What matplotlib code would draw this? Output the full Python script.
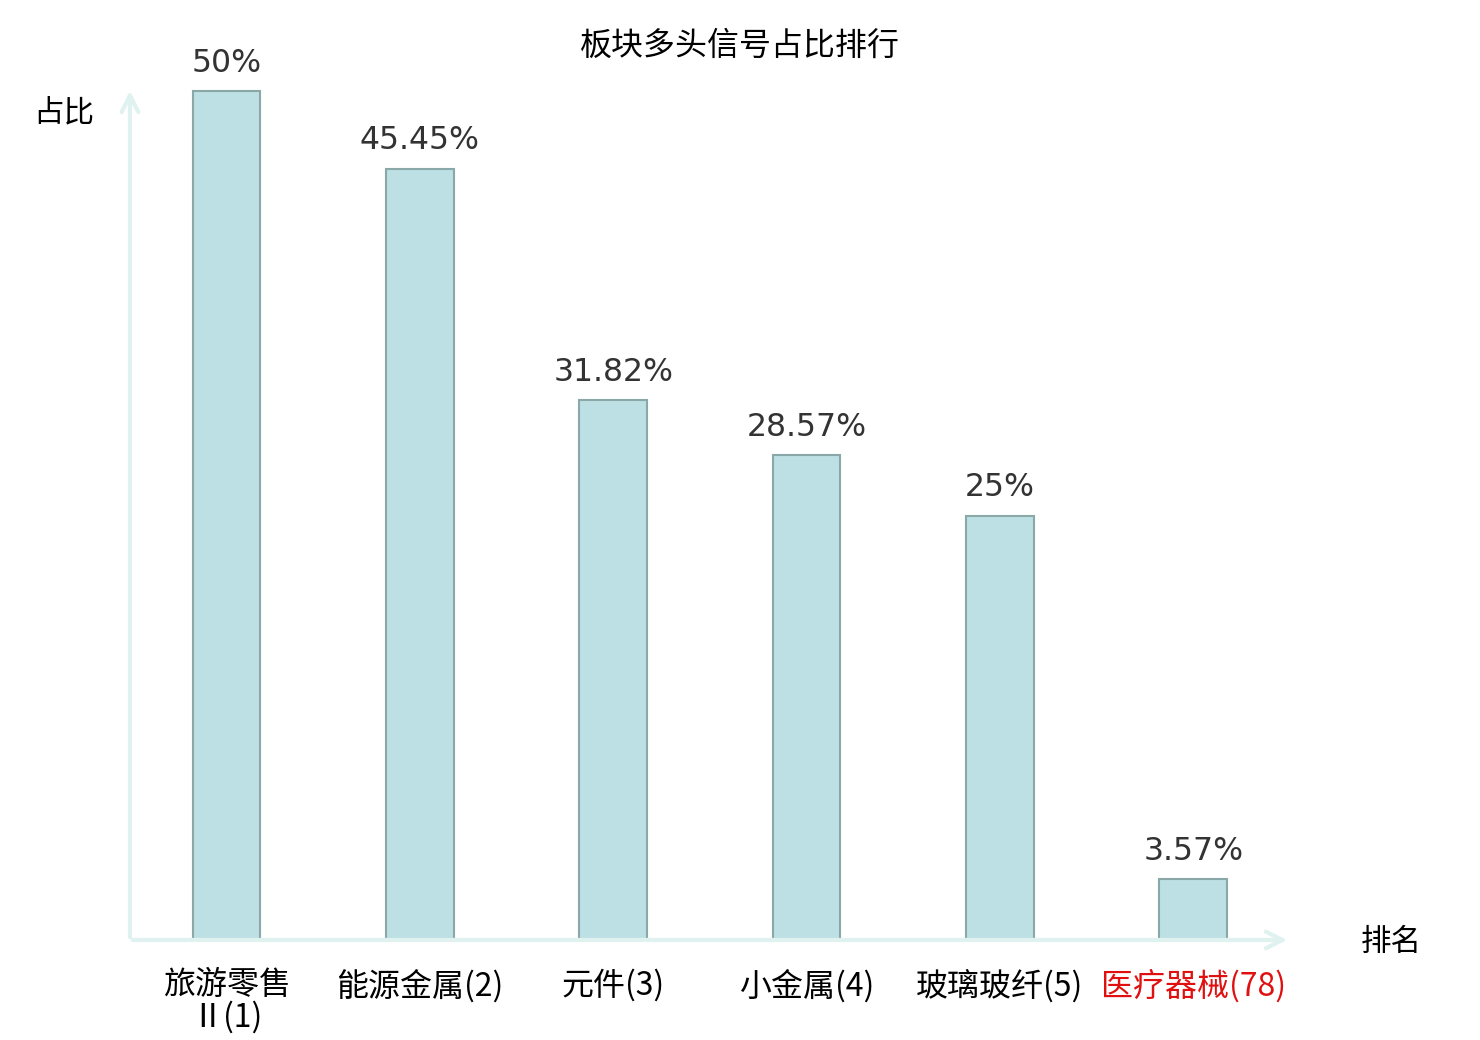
import matplotlib.pyplot as plt
import numpy as np

plt.rcParams['font.family'] = ['Noto Sans CJK SC', 'DejaVu Sans']

# 数据
categories = ['旅游零售\nⅡ(1)', '能源金属(2)', '元件(3)', '小金属(4)', '玻璃玻纤(5)', '医疗器械(78)']
values = [50, 45.45, 31.82, 28.57, 25, 3.57]
value_labels = ['50%', '45.45%', '31.82%', '28.57%', '25%', '3.57%']
label_colors = ['black', 'black', 'black', 'black', 'black', '#e01010']

fig = plt.figure(figsize=(14.8, 10.4), dpi=100)
ax = fig.add_axes([0.0878, 0.0962, 0.7838, 0.8192])

x = np.arange(len(categories))
ax.bar(x, values, width=0.35, color='#bce0e3', edgecolor='#8aa8a8', linewidth=1.5)

for i, v in enumerate(values):
    ax.annotate(value_labels[i], (x[i], v), xytext=(0, 20), textcoords='offset points',
                ha='center', va='center', fontsize=22.7, color='#333333', family='DejaVu Sans')

ax.set_xlim(-0.5, 5.5)
ax.set_ylim(0, 50.2)
for s in ax.spines.values():
    s.set_visible(False)
ax.set_yticks([])
ax.set_xticks([])

# x轴标签（手动放置，首行对齐）
for i, lab in enumerate(categories):
    ax.annotate(lab, (x[i], 0), xycoords=('data', 'axes fraction'), xytext=(0, -21),
                textcoords='offset points', ha='center', va='top', fontsize=23,
                color=label_colors[i], linespacing=1.0)

# 坐标轴箭头
arrow_color = '#dff2ef'
ax.annotate('', xy=(1.0, 0), xytext=(0, 0), xycoords='axes fraction',
            arrowprops=dict(arrowstyle='->', color=arrow_color, lw=3, mutation_scale=30))
ax.annotate('', xy=(0, 1.0), xytext=(0, 0), xycoords='axes fraction',
            arrowprops=dict(arrowstyle='->', color=arrow_color, lw=3, mutation_scale=30))

fig.text(0.5, 0.956, '板块多头信号占比排行', ha='center', va='center', fontsize=23)
fig.text(0.0432, 0.891, '占比', ha='center', va='center', fontsize=22)
fig.text(0.9400, 0.094, '排名', ha='center', va='center', fontsize=22)

fig.savefig('out.png', dpi=100)
